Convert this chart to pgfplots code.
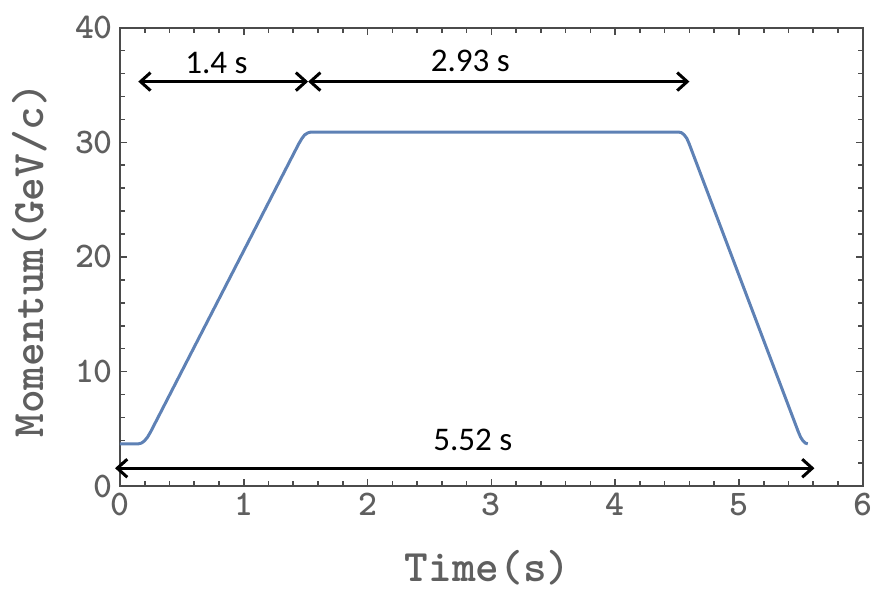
\documentclass[border=0pt]{standalone}
\usepackage{pgfplots}
\pgfplotsset{compat=1.18}
\usepackage{fontspec}
\setmainfont{Carlito}
\usetikzlibrary{arrows.meta}
\definecolor{curveblue}{RGB}{94,129,181}
\definecolor{labgray}{RGB}{95,95,95}
\definecolor{framegray}{RGB}{75,75,75}
\begin{document}
\begin{tikzpicture}
\begin{axis}[
  scale only axis,
  width=371pt, height=229pt,
  xmin=0, xmax=6, ymin=0, ymax=40,
  xtick={0,1,...,6}, ytick={0,10,...,40},
  minor x tick num=4, minor y tick num=4,
  major tick length=3.5pt, minor tick length=2.5pt,
  tick align=inside,
  axis line style={draw=framegray, line width=1pt},
  tick style={draw=framegray, line width=0.8pt},
  /pgf/number format/assume math mode=true,
  ticklabel style={font=\ttfamily\bfseries\fontsize{18}{18}\selectfont, text=labgray},
  xlabel={Time(s)},
  ylabel={Momentum(GeV/c)},
  label style={font=\ttfamily\bfseries\fontsize{22.5}{22.5}\selectfont, text=labgray},
  xlabel style={at={(axis description cs:0.495,-0.178)}, anchor=center},
  ylabel style={at={(axis description cs:-0.121,0.493)}, anchor=center},
  clip=false,
]
\addplot[curveblue, line width=1.5pt, line join=round] coordinates {
  (0,3.7) (0.15,3.7) (0.174,3.766) (0.1985,3.9625) (0.2232,4.29) (0.248,4.75)
  (1.443,29.85) (1.468,30.31) (1.4905,30.64) (1.518,30.83) (1.543,30.9)
  (4.512,30.9) (4.536,30.84) (4.558,30.65) (4.579,30.34) (4.597,29.9)
  (5.48,4.73) (5.498,4.28) (5.517,3.96) (5.536,3.76) (5.556,3.7)
};
% duration arrows
\draw[{Straight Barb[length=5pt,width=9pt]}-{Straight Barb[length=5pt,width=9pt]}, line width=1.5pt]
  (axis cs:0.148,35.3) -- (axis cs:1.52,35.3);
\draw[{Straight Barb[length=5pt,width=9pt]}-{Straight Barb[length=5pt,width=9pt]}, line width=1.5pt]
  (axis cs:1.52,35.3) -- (axis cs:4.60,35.3);
\draw[{Straight Barb[length=5pt,width=9pt]}-{Straight Barb[length=5pt,width=9pt]}, line width=1.5pt]
  (axis cs:-0.04,1.57) -- (axis cs:5.61,1.57);
\node[font=\fontsize{16.5}{16.5}\selectfont] at (axis cs:0.78,36.96) {1.4 s};
\node[font=\fontsize{16.5}{16.5}\selectfont] at (axis cs:2.83,37.1) {2.93 s};
\node[font=\fontsize{16.5}{16.5}\selectfont] at (axis cs:2.85,4.08) {5.52 s};
\coordinate (bbl) at (axis cs:-0.969,-9.02);
\coordinate (btr) at (axis cs:6.099,42.42);
\end{axis}
\pgfresetboundingbox
\path[use as bounding box] (bbl) rectangle (btr);
\end{tikzpicture}
\end{document}
